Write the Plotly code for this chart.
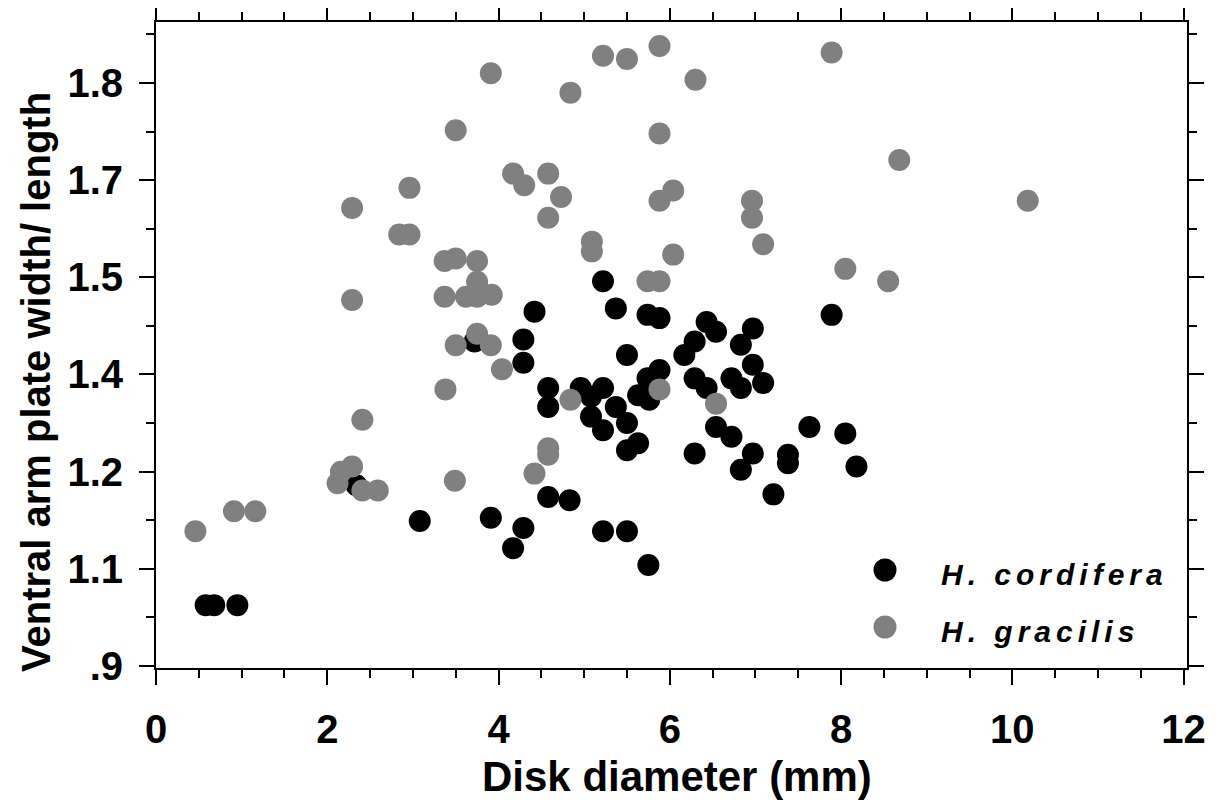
import plotly.graph_objects as go

# H. cordifera (black)
cord_x = [0.58, 0.68, 0.95, 2.34, 3.08, 3.72, 3.91, 4.17, 4.29, 4.29, 4.29, 4.42,
          4.58, 4.58, 4.58, 4.83, 4.96, 5.08, 5.08, 5.22, 5.22, 5.22, 5.22, 5.37,
          5.37, 5.50, 5.50, 5.50, 5.50, 5.63, 5.63, 5.74, 5.74, 5.76, 5.75, 5.88,
          5.88, 6.17, 6.29, 6.29, 6.29, 6.43, 6.43, 6.54, 6.54, 6.72, 6.72, 6.83,
          6.83, 6.83, 6.97, 6.97, 6.97, 7.09, 7.21, 7.38, 7.38, 7.63, 7.89, 8.05, 8.18]
cord_y = [0.994, 0.994, 0.994, 1.179, 1.124, 1.401, 1.129, 1.082, 1.113, 1.368, 1.404, 1.447,
          1.329, 1.300, 1.161, 1.156, 1.329, 1.316, 1.285, 1.329, 1.264, 1.494, 1.108, 1.452,
          1.300, 1.275, 1.380, 1.233, 1.108, 1.244, 1.318, 1.442, 1.344, 1.311, 1.056, 1.437,
          1.357, 1.380, 1.401, 1.344, 1.228, 1.431, 1.329, 1.416, 1.269, 1.344, 1.254, 1.396,
          1.329, 1.203, 1.421, 1.365, 1.228, 1.337, 1.165, 1.226, 1.213, 1.269, 1.442, 1.259, 1.208]

# H. gracilis (grey)
grac_x = [0.46, 0.91, 1.16, 2.12, 2.16, 2.29, 2.41, 2.59, 2.41, 2.29, 2.29, 2.84,
          2.96, 2.96, 3.38, 3.49, 3.50, 3.75, 3.91, 4.04, 3.37, 3.62, 3.75, 3.92,
          3.75, 3.37, 3.50, 3.75, 3.50, 3.91, 4.17, 4.30, 4.58, 4.58, 4.73, 4.84,
          4.84, 4.42, 4.58, 4.58, 5.09, 5.09, 5.22, 5.50, 5.88, 6.30, 5.88, 5.88,
          6.04, 6.04, 5.74, 5.88, 5.88, 6.54, 6.96, 6.96, 7.09, 7.89, 8.68, 8.05,
          8.55, 10.18]
grac_y = [1.108, 1.139, 1.139, 1.182, 1.200, 1.208, 1.171, 1.171, 1.280, 1.465, 1.607, 1.566,
          1.566, 1.638, 1.327, 1.186, 1.395, 1.413, 1.395, 1.358, 1.470, 1.470, 1.470, 1.473,
          1.493, 1.525, 1.529, 1.525, 1.727, 1.815, 1.660, 1.642, 1.660, 1.592, 1.624, 1.785,
          1.311, 1.197, 1.236, 1.226, 1.555, 1.540, 1.842, 1.837, 1.857, 1.805, 1.722, 1.618,
          1.634, 1.535, 1.494, 1.494, 1.327, 1.305, 1.618, 1.592, 1.551, 1.847, 1.681, 1.513,
          1.494, 1.618]

y_tickvals = [0.9, 1.05, 1.2, 1.35, 1.5, 1.65, 1.8]
y_ticktext = [".9", "1.1", "1.2", "1.4", "1.5", "1.7", "1.8"]
x_tickvals = [0, 2, 4, 6, 8, 10, 12]

series_names = ["H. cordifera", "H. gracilis"]
series_colors = ["#000000", "#808080"]

FONT = "Liberation Sans, Arial, sans-serif"

fig = go.Figure()
fig.add_trace(go.Scatter(x=cord_x, y=cord_y, mode="markers", name=series_names[0],
                         marker=dict(size=22, color=series_colors[0], line=dict(width=0))))
fig.add_trace(go.Scatter(x=grac_x, y=grac_y, mode="markers", name=series_names[1],
                         marker=dict(size=22, color=series_colors[1], line=dict(width=0))))

tickfont = dict(family=FONT, size=40, color="black", weight="bold")

y_minor = [round(0.975 + 0.15 * i, 3) for i in range(7)]
x_minor = [i * 0.5 for i in range(25) if i % 4 != 0]

fig.update_xaxes(range=[0, 12.04], tickvals=x_tickvals, ticktext=[str(v) for v in x_tickvals],
                 ticks="outside", ticklen=15, tickwidth=2, tickcolor="black",
                 showline=True, linewidth=2, linecolor="black", mirror="allticks",
                 showgrid=False, zeroline=False, tickfont=tickfont, ticklabelstandoff=10,
                 minor=dict(tickvals=x_minor, ticks="outside", ticklen=8, tickwidth=2,
                            tickcolor="black", showgrid=False))
fig.update_yaxes(range=[0.897, 1.894], tickvals=y_tickvals, ticktext=y_ticktext,
                 ticks="outside", ticklen=15, tickwidth=2, tickcolor="black",
                 showline=True, linewidth=2, linecolor="black", mirror="allticks",
                 showgrid=False, zeroline=False, tickfont=tickfont, ticklabelstandoff=8,
                 minor=dict(tickvals=y_minor, ticks="outside", ticklen=8, tickwidth=2,
                            tickcolor="black", showgrid=False))

# page has an 8px body margin: work in page pixels, convert to figure pixels
OFF = 8
W, H = 1221 - OFF, 800 - OFF
L, T = 156 - OFF, 22 - OFF
R = 1221 - 1187
B = 800 - 668
pw, ph = W - L - R, H - T - B

def px_x(p):
    return (p - OFF - L) / pw

def px_y(p):
    return (H - B - (p - OFF)) / ph

annotations = [
    dict(text="Disk diameter (mm)", x=px_x(677), y=px_y(776), xref="paper", yref="paper",
         xanchor="center", yanchor="middle", showarrow=False,
         font=dict(family=FONT, size=42, color="black", weight="bold")),
    dict(text="Ventral arm plate width/ length", x=px_x(36), y=px_y(382), xref="paper",
         yref="paper", xanchor="center", yanchor="middle", textangle=-90, showarrow=False,
         font=dict(family=FONT, size=40, color="black", weight="bold")),
]
shapes = []
leg_marker_y = [570, 627]
leg_text_y = [574, 631]
for name, col, my, ty in zip(series_names, series_colors, leg_marker_y, leg_text_y):
    shapes.append(dict(type="circle", xref="paper", yref="paper",
                       xsizemode="pixel", ysizemode="pixel",
                       xanchor=px_x(885), yanchor=px_y(my),
                       x0=-11.5, x1=11.5, y0=-11.5, y1=11.5,
                       fillcolor=col, line=dict(width=0)))
    annotations.append(dict(text='<span style="letter-spacing:5px">' + name + '</span>',
                            x=px_x(939), y=px_y(ty), xref="paper", yref="paper",
                            xanchor="left", yanchor="middle", showarrow=False,
                            font=dict(family=FONT, size=30, color="black", weight="bold",
                                      style="italic")))

fig.update_layout(width=W, height=H, margin=dict(l=L, r=R, t=T, b=B, autoexpand=False),
                  paper_bgcolor="white", plot_bgcolor="white", showlegend=False,
                  annotations=annotations, shapes=shapes)

fig.write_html("out.html")
